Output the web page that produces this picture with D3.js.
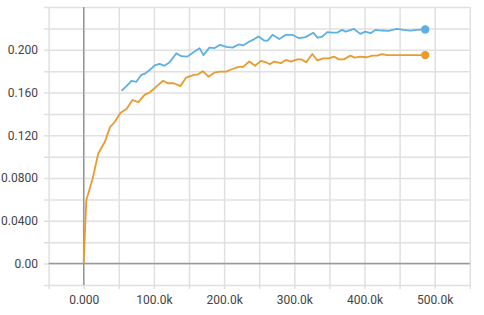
<!DOCTYPE html>
<html>
<head>
<meta charset="utf-8">
<script src="https://cdn.jsdelivr.net/npm/d3@7"></script>
<style>
  body { margin: 0; background: #fff; }
  svg text { font-family: Roboto, "Noto Sans", sans-serif; font-size: 12px; fill: #444; }
</style>
</head>
<body>
<svg id="chart" width="484" height="315"></svg>
<script>
// steps and values
const orangeSteps = [0, 3700, 12800, 20700, 30200, 37300, 44400, 52500, 61000, 69500, 78000, 87000, 94000, 103500, 113000, 120000, 128500, 137600, 146000, 157000, 163000, 169600, 177700, 186000, 194000, 202800, 212000, 220700, 227000, 235900, 244000, 252500, 259600, 265000, 271400, 280900, 288000, 295000, 304400, 310000, 317000, 325700, 332800, 341000, 349400, 356500, 363600, 370600, 380000, 386000, 394000, 403700, 410800, 418000, 425000, 432000, 446000, 463000, 486500];
const orangeValues = [0.0, 0.0593, 0.0796, 0.103, 0.114, 0.1274, 0.1327, 0.141, 0.1446, 0.153, 0.151, 0.158, 0.160, 0.1655, 0.171, 0.1687, 0.1687, 0.166, 0.174, 0.1765, 0.177, 0.180, 0.1748, 0.1786, 0.1796, 0.1796, 0.182, 0.184, 0.184, 0.189, 0.185, 0.1896, 0.1883, 0.1865, 0.189, 0.1874, 0.1905, 0.189, 0.191, 0.191, 0.1883, 0.196, 0.190, 0.192, 0.192, 0.1936, 0.191, 0.191, 0.1945, 0.1927, 0.1936, 0.193, 0.1945, 0.1945, 0.196, 0.195, 0.195, 0.195, 0.195];

const blueSteps = [53900, 61000, 68000, 75000, 82000, 88000, 94000, 101000, 108000, 115000, 122000, 132000, 139000, 147500, 157000, 165000, 170600, 179000, 186000, 194000, 203000, 212000, 220700, 227000, 236000, 243000, 249000, 257000, 262000, 269000, 278500, 288000, 297000, 306800, 316000, 327000, 333000, 340000, 347000, 354000, 361000, 368000, 373000, 385000, 394000, 401000, 408500, 415600, 425000, 434500, 446000, 455700, 465000, 474600, 486500];
const blueValues = [0.1617, 0.166, 0.171, 0.170, 0.1765, 0.178, 0.181, 0.1855, 0.1868, 0.185, 0.188, 0.1968, 0.194, 0.1936, 0.198, 0.2015, 0.195, 0.202, 0.2015, 0.2046, 0.2027, 0.202, 0.205, 0.204, 0.2077, 0.210, 0.2124, 0.2086, 0.2086, 0.214, 0.210, 0.214, 0.214, 0.2108, 0.2118, 0.216, 0.2114, 0.2124, 0.2165, 0.216, 0.216, 0.2186, 0.217, 0.2195, 0.2149, 0.217, 0.2155, 0.2186, 0.218, 0.2177, 0.2195, 0.2186, 0.218, 0.2186, 0.219];

const xTicks = d3.range(-50000, 550001, 50000);
const yTicks = d3.range(-0.02, 0.2401, 0.02);

const svg = d3.select("#chart");
const plotLeft = 48.6, plotRight = 469.8, plotTop = 7, plotBottom = 285;

const x = d3.scaleLinear().domain([-50000, 550000]).range([plotLeft, plotRight]);
const y = d3.scaleLinear().domain([-0.02, 0.24]).range([plotBottom, plotTop]);

const fmtX = d3.format(".4s"), fmtY = d3.format(".3r");

// x grid + labels
const gx = svg.append("g")
    .attr("transform", "translate(0," + (plotBottom + 4) + ")")
    .call(d3.axisBottom(x)
        .tickValues(xTicks)
        .tickSize(-(plotBottom + 4 - plotTop))
        .tickPadding(6)
        .tickFormat(function(d) {
            return (Math.round(d / 50000) % 2 === 0 && d >= 0 && d <= 500000) ? fmtX(d) : "";
        }));
gx.select(".domain").remove();
gx.selectAll("line").attr("stroke", "#e0e0e0").attr("stroke-width", 1.5);

// y grid + labels
const gy = svg.append("g")
    .attr("transform", "translate(" + (plotLeft - 4.6) + ",0)")
    .call(d3.axisLeft(y)
        .tickValues(yTicks)
        .tickSize(-(plotRight - plotLeft + 4.6))
        .tickPadding(6)
        .tickFormat(function(d) {
            let k = Math.round(d / 0.02);
            return (k % 2 === 0 && k >= 0 && k <= 10) ? fmtY(Math.abs(d) < 1e-9 ? 0 : d) : "";
        }));
gy.select(".domain").remove();
gy.selectAll("line").attr("stroke", "#e0e0e0").attr("stroke-width", 1.5);

// zero lines
svg.append("line")
    .attr("x1", plotLeft).attr("x2", plotRight)
    .attr("y1", y(0)).attr("y2", y(0))
    .attr("stroke", "#999").attr("stroke-width", 1.5);
svg.append("line")
    .attr("x1", x(0)).attr("x2", x(0))
    .attr("y1", plotTop).attr("y2", plotBottom)
    .attr("stroke", "#999").attr("stroke-width", 1.5);

const line = d3.line()
    .x(function(d) { return x(d[0]); })
    .y(function(d) { return y(d[1]); });

const series = [
    { steps: orangeSteps, values: orangeValues, color: "#e99c2e" },
    { steps: blueSteps, values: blueValues, color: "#5db0e4" }
];

series.forEach(function(s) {
    let pts = d3.zip(s.steps, s.values);
    svg.append("path")
        .datum(pts)
        .attr("d", line)
        .attr("fill", "none")
        .attr("stroke", s.color)
        .attr("stroke-width", 1.8)
        .attr("stroke-linejoin", "round");
    let last = pts[pts.length - 1];
    svg.append("circle")
        .attr("cx", x(last[0]))
        .attr("cy", y(last[1]))
        .attr("r", 4.2)
        .attr("fill", s.color);
});
</script>
</body>
</html>
